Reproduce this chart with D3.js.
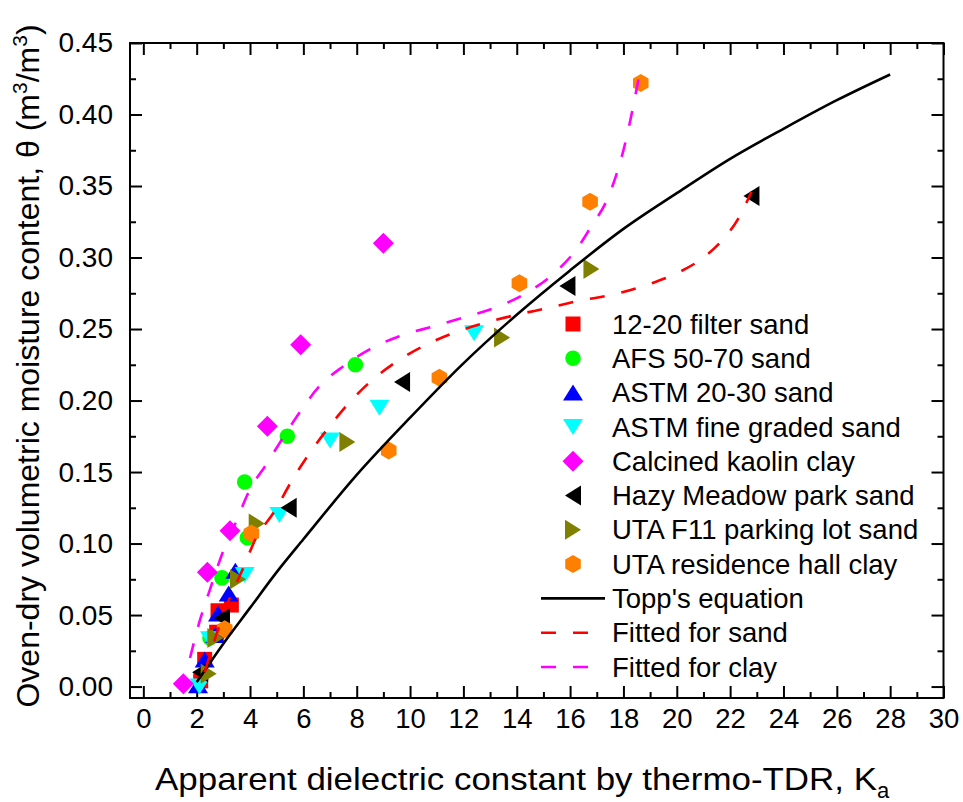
<!DOCTYPE html>
<html>
<head>
<meta charset="utf-8">
<script src="https://cdn.jsdelivr.net/npm/d3@7"></script>
<style>
body { margin: 0; background: #fff; }
svg text { font-family: Arial, "Liberation Sans", sans-serif; fill: #000; }
</style>
</head>
<body>
<div id="chart"></div>
<script>
var width = 963, height = 802;
var frame = {left: 130, right: 943.5, top: 43, bottom: 698};

// measured points, [Ka, theta]
var filterSand   = [[2.15, 0.004], [2.3, 0.019], [2.75, 0.038], [2.8, 0.053], [3.3, 0.057]];
var afsSand      = [[2.5, 0.034], [2.95, 0.076], [3.9, 0.104], [3.8, 0.143], [5.4, 0.175], [7.95, 0.225]];
var astm2030Sand = [[2.05, 0.001], [2.3, 0.019], [2.7, 0.036], [2.8, 0.051], [3.2, 0.065], [3.45, 0.081]];
var astmFineSand = [[2.1, 0.0], [2.5, 0.033], [3.8, 0.078], [5.1, 0.12], [7.0, 0.172], [8.85, 0.195], [12.4, 0.247]];
var kaolinClay   = [[1.5, 0.002], [2.4, 0.08], [3.25, 0.109], [4.65, 0.182], [5.9, 0.239], [9.0, 0.31]];
var hazySand     = [[2.13, 0.01], [2.95, 0.048], [5.45, 0.125], [9.7, 0.213], [15.9, 0.28], [22.8, 0.343]];
var f11Sand      = [[2.45, 0.009], [2.7, 0.034], [3.55, 0.075], [4.25, 0.114], [7.65, 0.171], [13.45, 0.244], [16.8, 0.292]];
var residenceClay = [[3.05, 0.04], [4.05, 0.107], [9.2, 0.165], [11.1, 0.216], [14.1, 0.282], [16.75, 0.339], [18.65, 0.422]];

var seriesNames  = ['12-20 filter sand', 'AFS 50-70 sand', 'ASTM 20-30 sand', 'ASTM fine graded sand',
                    'Calcined kaolin clay', 'Hazy Meadow park sand', 'UTA F11 parking lot sand', 'UTA residence hall clay'];
var seriesData   = [filterSand, afsSand, astm2030Sand, astmFineSand, kaolinClay, hazySand, f11Sand, residenceClay];
var seriesColors = ['#ff0000', '#00ff00', '#0000ff', '#00ffff', '#ff00ff', '#000000', '#808000', '#ff8000'];
var seriesShapes = ['square', 'circle', 'up', 'down', 'diamond', 'left', 'right', 'hexagon'];

// curves
var toppKa    = [2, 3, 4, 5, 6, 8, 10, 12, 14, 16, 18, 20, 22, 24, 26, 28];
var toppTheta = [0.003, 0.030, 0.055, 0.080, 0.103, 0.148, 0.188, 0.226, 0.260, 0.291, 0.320, 0.345, 0.369, 0.390, 0.410, 0.428];
var sandFitKa    = [2.3, 2.75, 3.2, 3.75, 4.2, 4.9, 5.6, 6.9, 7.6, 8.5, 9.4, 10.5, 11.6, 12.75, 14, 15.25, 16.4, 17.6, 18.9, 20, 21, 21.7, 22.3, 22.8];
var sandFitTheta = [0.01, 0.037, 0.06, 0.083, 0.103, 0.122, 0.145, 0.18, 0.196, 0.213, 0.226, 0.238, 0.247, 0.254, 0.26, 0.265, 0.27, 0.274, 0.281, 0.289, 0.300, 0.312, 0.327, 0.346];
var clayFitKa    = [1.75, 2.1, 2.5, 3.0, 3.45, 4.0, 4.6, 5.1, 5.8, 6.6, 7.5, 8.5, 9.6, 10.9, 12, 13.2, 14.25, 15.4, 16.25, 16.8, 17.4, 18.0, 18.65];
var clayFitTheta = [0.02, 0.045, 0.068, 0.095, 0.114, 0.138, 0.155, 0.17, 0.19, 0.21, 0.224, 0.236, 0.245, 0.252, 0.258, 0.265, 0.274, 0.289, 0.306, 0.322, 0.341, 0.375, 0.433];

var xTicks = [0, 2, 4, 6, 8, 10, 12, 14, 16, 18, 20, 22, 24, 26, 28, 30];
var xMinor = [1, 3, 5, 7, 9, 11, 13, 15, 17, 19, 21, 23, 25, 27, 29];
var yTicks = [0, 0.05, 0.10, 0.15, 0.20, 0.25, 0.30, 0.35, 0.40, 0.45];
var yMinor = [0.025, 0.075, 0.125, 0.175, 0.225, 0.275, 0.325, 0.375, 0.425];

var x = d3.scaleLinear().domain([-0.5, 30]).range([frame.left, frame.right]);
var y = d3.scaleLinear().domain([-0.008, 0.45]).range([frame.bottom, frame.top]);

var svg = d3.select('#chart').append('svg')
    .attr('width', width)
    .attr('height', height);

svg.append('rect').attr('width', width).attr('height', height).attr('fill', '#fff');

function markerPath(shape){
    switch(shape){
        case 'square':  return 'M-7.5,-7.5H7.5V7.5H-7.5Z';
        case 'circle':  return d3.symbol(d3.symbolCircle, Math.PI * 7.8 * 7.8)();
        case 'up':      return 'M0,-8L10,8L-10,8Z';
        case 'down':    return 'M0,8L10,-8L-10,-8Z';
        case 'left':    return 'M-8,0L8,-10L8,10Z';
        case 'right':   return 'M8,0L-8,-10L-8,10Z';
        case 'diamond': return 'M0,-10.5L10.5,0L0,10.5L-10.5,0Z';
        case 'hexagon':
            var pts = d3.range(6).map(function(i){
                var a = Math.PI / 3 * i;
                return [9 * Math.sin(a), -9 * Math.cos(a)];
            });
            return 'M' + pts.join('L') + 'Z';
    }
}

// axes: ticks point inward on all four sides
function drawAxis(axisFn, scale, major, minor, transform, fmt){
    var g = svg.append('g').attr('transform', transform);
    g.call(axisFn(scale).tickValues(major).tickSize(-12).tickSizeOuter(0).tickPadding(fmt ? 10 : 0)
        .tickFormat(fmt ? fmt : ''));
    g.append('g').call(axisFn(scale).tickValues(minor).tickSize(-6).tickSizeOuter(0).tickFormat(''));
    g.selectAll('.domain').remove();
    g.selectAll('line').attr('stroke', '#000').attr('stroke-width', 2);
    g.selectAll('text').style('font-size', '27.5px').attr('fill', '#000');
    return g;
}

drawAxis(d3.axisBottom, x, xTicks, xMinor, 'translate(0,' + frame.bottom + ')', d3.format('d'));
drawAxis(d3.axisTop, x, xTicks, xMinor, 'translate(0,' + frame.top + ')', null);
var yAxisG = drawAxis(d3.axisLeft, y, yTicks, yMinor, 'translate(' + frame.left + ',0)', d3.format('.2f'));
yAxisG.selectAll('text').attr('x', -17).style('font-size', '28px');
drawAxis(d3.axisRight, y, yTicks, yMinor, 'translate(' + frame.right + ',0)', null);

svg.append('rect')
    .attr('x', frame.left).attr('y', frame.top)
    .attr('width', frame.right - frame.left).attr('height', frame.bottom - frame.top)
    .attr('fill', 'none').attr('stroke', '#000').attr('stroke-width', 2);

// markers
seriesData.forEach(function(data, i){
    svg.append('g').selectAll('path')
        .data(data)
        .enter()
        .append('path')
        .attr('d', markerPath(seriesShapes[i]))
        .attr('fill', seriesColors[i])
        .attr('transform', function(d){
            return 'translate(' + x(d[0]) + ',' + y(d[1]) + ')';
        });
});

// curves
var line = d3.line()
    .x(function(d){ return x(d[0]); })
    .y(function(d){ return y(d[1]); })
    .curve(d3.curveMonotoneX);

function zip(a, b){ return a.map(function(v, i){ return [v, b[i]]; }); }

var curves = [
    {data: zip(toppKa, toppTheta), color: '#000000', dash: null, name: "Topp's equation"},
    {data: zip(sandFitKa, sandFitTheta), color: '#ff0000', dash: '15,17', name: 'Fitted for sand'},
    {data: zip(clayFitKa, clayFitTheta), color: '#ff00ff', dash: '15,17', name: 'Fitted for clay'}
];

curves.forEach(function(c){
    svg.append('path')
        .attr('d', line(c.data))
        .attr('fill', 'none')
        .attr('stroke', c.color)
        .attr('stroke-width', 2.6)
        .attr('stroke-dasharray', c.dash);
});

// legend
var legendX = 573, legendY = 324, rowH = 34.3, textX = 612;
var legend = svg.append('g');
seriesNames.forEach(function(name, i){
    var ry = legendY + i * rowH;
    legend.append('path')
        .attr('d', markerPath(seriesShapes[i]))
        .attr('fill', seriesColors[i])
        .attr('transform', 'translate(' + legendX + ',' + ry + ')');
    legend.append('text')
        .attr('x', textX).attr('y', ry)
        .attr('dy', '0.35em')
        .style('font-size', '27.5px')
        .text(name);
});
curves.forEach(function(c, j){
    var ry = legendY + (seriesNames.length + j) * rowH;
    legend.append('line')
        .attr('x1', 541).attr('x2', 605)
        .attr('y1', ry).attr('y2', ry)
        .attr('stroke', c.color)
        .attr('stroke-width', 2.6)
        .attr('stroke-dasharray', c.dash);
    legend.append('text')
        .attr('x', textX).attr('y', ry)
        .attr('dy', '0.35em')
        .style('font-size', '27.5px')
        .text(c.name);
});

// axis titles
var xTitle = svg.append('text')
    .attr('x', 155)
    .attr('y', 790)
    .style('font-size', '32px');
xTitle.append('tspan')
    .attr('textLength', 722).attr('lengthAdjust', 'spacingAndGlyphs')
    .text('Apparent dielectric constant by thermo-TDR, K');
xTitle.append('tspan').attr('dy', 8).style('font-size', '22px').text('a');

var yTitle = svg.append('text')
    .attr('transform', 'translate(39,366) rotate(-90)')
    .attr('text-anchor', 'middle')
    .style('font-size', '32px');
yTitle.append('tspan').text('Oven-dry volumetric moisture content, \u03b8 (m');
yTitle.append('tspan').attr('dy', -12).style('font-size', '21px').text('3');
yTitle.append('tspan').attr('dy', 12).text('/m');
yTitle.append('tspan').attr('dy', -12).style('font-size', '21px').text('3');
yTitle.append('tspan').attr('dy', 12).text(')');
</script>
</body>
</html>
